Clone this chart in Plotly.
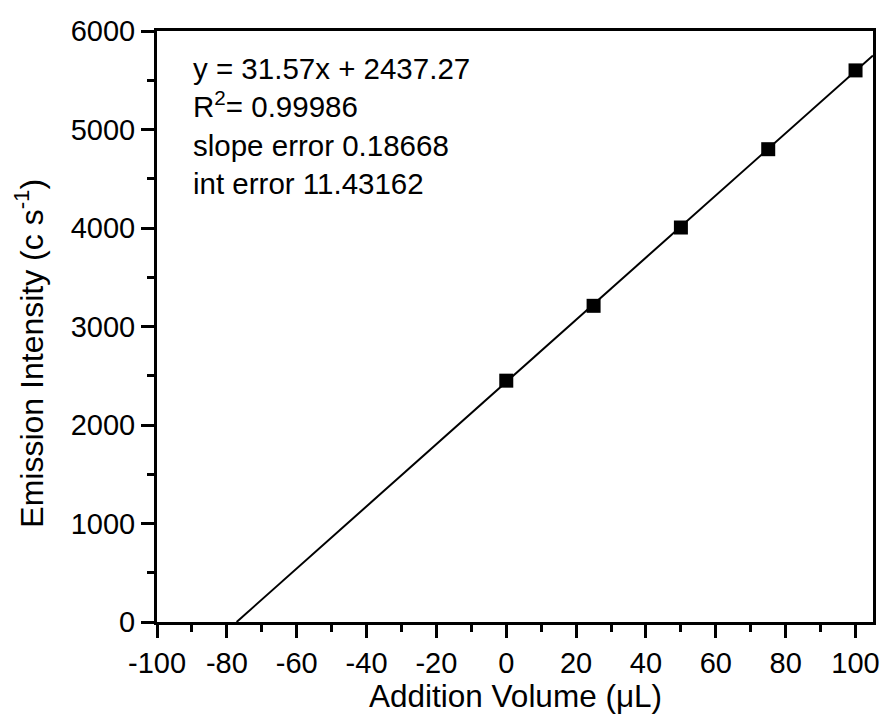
import plotly.graph_objects as go

# Data
addition_volume = [0, 25, 50, 75, 100]
emission_intensity = [2450, 3210, 4005, 4800, 5600]

# Linear fit reported on the chart
fit_slope = 31.57
fit_intercept = 2437.27
fit_x_end = 105

x_range = [-100, 105]
y_range = [0, 6000]
x_ticks = [-100, -80, -60, -40, -20, 0, 20, 40, 60, 80, 100]
y_ticks = [0, 1000, 2000, 3000, 4000, 5000, 6000]

fit_text_lines = [
    "y = 31.57x + 2437.27",
    "R<sup>2</sup>= 0.99986",
    "slope error 0.18668",
    "int error 11.43162",
]

FONT = "Liberation Sans, Arial, sans-serif"

fit_x = [-fit_intercept / fit_slope, fit_x_end]
fit_y = [fit_slope * v + fit_intercept for v in fit_x]

fig = go.Figure()
fig.add_trace(go.Scatter(
    x=fit_x, y=fit_y, mode="lines",
    line=dict(color="black", width=2),
    showlegend=False, hoverinfo="skip",
))
fig.add_trace(go.Scatter(
    x=addition_volume, y=emission_intensity, mode="markers",
    marker=dict(symbol="square", size=14, color="black", line=dict(width=0)),
    showlegend=False,
))

axis_common = dict(
    showgrid=False, zeroline=False,
    showline=True, linecolor="black", linewidth=3, mirror=True,
    ticks="outside", ticklen=13, tickwidth=3, tickcolor="black",
    tickfont=dict(family=FONT, size=29, color="black"),
)

fig.update_xaxes(
    range=x_range, tickvals=x_ticks, ticktext=[str(v) for v in x_ticks],
    minor=dict(dtick=10, tick0=-100, ticks="outside", ticklen=7, tickwidth=3, tickcolor="black"),
    **axis_common,
)
fig.update_yaxes(
    range=y_range, tickvals=y_ticks, ticktext=[str(v) for v in y_ticks],
    minor=dict(dtick=500, tick0=0, ticks="outside", ticklen=7, tickwidth=3, tickcolor="black"),
    **axis_common,
)

fig.add_annotation(
    text="<br>".join(fit_text_lines), xref="paper", yref="paper",
    x=0.048, y=0.968, xanchor="left", yanchor="top", align="left",
    showarrow=False, font=dict(family=FONT, size=29.5, color="black"),
)
fig.add_annotation(
    text="Addition Volume (μL)", xref="paper", yref="paper",
    x=0.5, y=-0.126, xanchor="center", yanchor="middle",
    showarrow=False, font=dict(family=FONT, size=31.5, color="black"),
)
fig.add_annotation(
    text="Emission Intensity (c s<sup>-1</sup>)", xref="paper", yref="paper",
    x=-0.178, y=0.455, xanchor="center", yanchor="middle", textangle=-90,
    showarrow=False, font=dict(family=FONT, size=32, color="black"),
)

fig.update_layout(
    width=891, height=715,
    margin=dict(l=157, r=11, t=31, b=93),
    plot_bgcolor="white", paper_bgcolor="white",
)

fig.write_html("out.html")
